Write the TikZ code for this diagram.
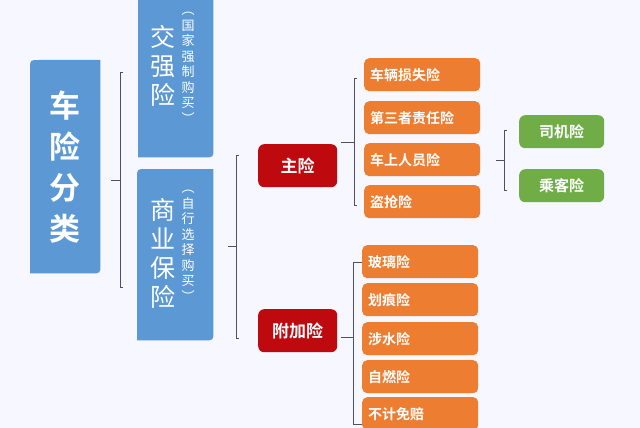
\documentclass[tikz,border=0pt]{standalone}
\usepackage{fontspec}
\setmainfont{Noto Sans CJK SC}
\newfontfamily\cjkb{Noto Sans CJK SC Bold}
\begin{document}
\begin{tikzpicture}[x=1pt,y=-1pt,
  bluec/.style={fill={rgb,255:red,91;green,152;blue,212}},
  brk/.style={draw={rgb,255:red,80;green,80;blue,100},line width=0.9pt},
  ob/.style={rectangle,rounded corners=5pt,fill={rgb,255:red,237;green,125;blue,49},text=white,font=\cjkb\fontsize{14}{16}\selectfont,minimum width=116pt,minimum height=33pt,anchor=north west,text width=104pt,align=left,inner sep=6pt},
  rb/.style={rectangle,rounded corners=6pt,fill={rgb,255:red,190;green,10;blue,15},text=white,font=\cjkb\fontsize{17}{19}\selectfont,minimum width=79pt,minimum height=43pt,anchor=north west},
  gb/.style={rectangle,rounded corners=6pt,fill={rgb,255:red,112;green,173;blue,71},text=white,font=\cjkb\fontsize{15}{17}\selectfont,minimum width=85pt,minimum height=33pt,anchor=north west},
  hb/.style={rectangle,minimum width=#1,inner sep=0pt,anchor=north west},
]
\useasboundingbox (0,0) rectangle (640,428);
\fill[white!97!blue] (0,0) rectangle (640,428);
% blue boxes (placeholders)
\node[hb=70pt,minimum height=213pt] (root) at (30,60) {};
\node[hb=75pt,minimum height=172pt] (jq) at (138,-15) {};
\node[hb=76pt,minimum height=171pt] (sy) at (137,169) {};
\foreach \b in {root,jq,sy}{
  \fill[bluec] ([yshift=-9pt]\b.north west) .. controls (\b.north west) .. ([xshift=9pt]\b.north west)
   -- (\b.north east) -- ([yshift=9pt]\b.south east) .. controls (\b.south east) .. ([xshift=-9pt]\b.south east)
   -- (\b.south west) -- cycle;}
\node[text=white,font=\cjkb\fontsize{31}{41}\selectfont,align=center,inner sep=0] (roott) at (root.center) {车\\险\\分\\类};
\node[text=white,font=\fontsize{25}{29}\selectfont,align=center,inner sep=0] (jqt) at (163,66) {交\\强\\险};
\node[text=white,font=\fontsize{13}{15.5}\selectfont,align=center,inner sep=0] (jqs) at (188,68) {︵\\国\\家\\强\\制\\购\\买\\︶};
\node[text=white,font=\fontsize{25}{29}\selectfont,align=center,inner sep=0] (syt) at (163,253) {商\\业\\保\\险};
\node[text=white,font=\fontsize{13}{15.5}\selectfont,align=center,inner sep=0] (sys) at (188,246) {︵\\自\\行\\选\\择\\购\\买\\︶};
% red
\node[rb] (zx) at (258,144) {主险};
\node[rb] (fj) at (258,309) {附加险};
% orange
\node[ob] (o1) at (364,58) {车辆损失险};
\node[ob] (o2) at (364,101) {第三者责任险};
\node[ob] (o3) at (364,143) {车上人员险};
\node[ob] (o4) at (364,185) {盗抢险};
\node[ob] (p1) at (362,245) {玻璃险};
\node[ob] (p2) at (362,283) {划痕险};
\node[ob] (p3) at (362,322) {涉水险};
\node[ob] (p4) at (362,360) {自燃险};
\node[ob] (p5) at (362,397) {不计免赔};
% green
\node[gb] (g1) at (519,115) {司机险};
\node[gb] (g2) at (519,169) {乘客险};
% brackets
\coordinate (b1) at (120,180);
\draw[brk] ([xshift=11pt]root.east |- b1) -- (b1);
\draw[brk] (123,72) -- (120,72) -- (120,287) -- (123,287);
\coordinate (b2) at (236,246);
\draw[brk] ([xshift=15pt]sy.east |- b2) -- (b2);
\draw[brk] (239,155) -- (236,155) -- (236,338) -- (239,338);
\draw[brk] ([xshift=4pt]zx.east |- 0,142) -- (354,142);
\draw[brk] (357,78) -- (354,78) -- (354,205) -- (357,205);
\draw[brk] ([xshift=4pt]fj.east |- 0,337) -- (353,337);
\draw[brk] (362,262) -- (353,262) -- (353,424) -- (362,424);
\draw[brk] ([xshift=16pt]o3.east |- 0,160) -- (504,160);
\draw[brk] (507,130) -- (504,130) -- (504,190) -- (507,190);
\end{tikzpicture}
\end{document}
